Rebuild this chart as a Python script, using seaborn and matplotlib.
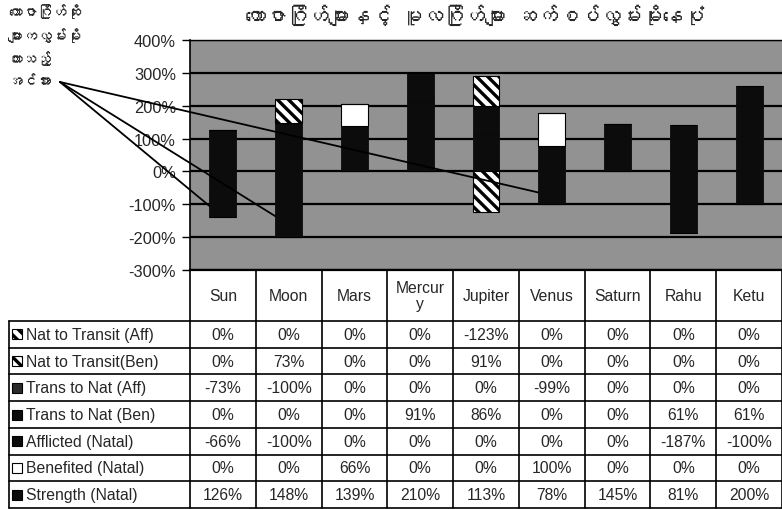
import numpy as np
import matplotlib
matplotlib.use("Agg")
import matplotlib.pyplot as plt
import seaborn as sns
from matplotlib import font_manager
from matplotlib.lines import Line2D
from matplotlib.patches import Rectangle

# ---------------- data ----------------
planets = ["Sun", "Moon", "Mars", "Mercury", "Jupiter", "Venus", "Saturn", "Rahu", "Ketu"]
header_labels = ["Sun", "Moon", "Mars", "Mercur\ny", "Jupiter", "Venus", "Saturn", "Rahu", "Ketu"]

series_names = ["Nat to Transit (Aff)", "Nat to Transit(Ben)", "Trans to Nat (Aff)",
                "Trans to Nat (Ben)", "Afflicted (Natal)", "Benefited (Natal)", "Strength (Natal)"]
nat_to_transit_aff = [0, 0, 0, 0, -123, 0, 0, 0, 0]
nat_to_transit_ben = [0, 73, 0, 0, 91, 0, 0, 0, 0]
trans_to_nat_aff = [-73, -100, 0, 0, 0, -99, 0, 0, 0]
trans_to_nat_ben = [0, 0, 0, 91, 86, 0, 0, 61, 61]
afflicted_natal = [-66, -100, 0, 0, 0, 0, 0, -187, -100]
benefited_natal = [0, 0, 66, 0, 0, 100, 0, 0, 0]
strength_natal = [126, 148, 139, 210, 113, 78, 145, 81, 200]

y_ticks = [-300, -200, -100, 0, 100, 200, 300, 400]

title_text = "ကောဇာဂြိုဟ်များနှင့် မူလဂြိုဟ်များ ဆက်စပ်လွှမ်းမိုးနေပုံ"
note_lines = ["ကောဇာဂြိုဟ်ဆိုး", "များကလွှမ်းမိုး", "ထားသည့်", "အင်အား"]

# ---------------- fonts ----------------
sns.set_style("white")
plt.rcParams["font.family"] = ["Liberation Sans", "DejaVu Sans"]
plt.rcParams["hatch.linewidth"] = 2.4

mm_font = None
try:
    from fontTools.ttLib import TTFont
    for f in font_manager.fontManager.ttflist:
        try:
            tt = TTFont(f.fname, fontNumber=0, lazy=True)
            cm = tt.getBestCmap()
            if cm and 0x1000 in cm and 0x103A in cm:
                mm_font = f.name
                break
        except Exception:
            pass
except Exception:
    pass
mm_family = [mm_font, "DejaVu Sans"] if mm_font else ["DejaVu Sans"]

# ---------------- layout ----------------
W, H = 782, 510
PL, PR, PT, PB = 190, 782, 41, 271
HEAD_B = 322
ROW_H = (509 - HEAD_B) / 7
LBL_L = 9
FS = 11.3
BAR_W = 0.41

fig = plt.figure(figsize=(W / 100, H / 100), dpi=100)
ax = fig.add_axes([PL / W, 1 - PB / H, (PR - PL) / W, (PB - PT) / H])
ax.set_facecolor("#929292")

black = dict(color="#0c0c0c", edgecolor="#0c0c0c", linewidth=0.6)
white = dict(color="white", edgecolor="black", linewidth=0.8)
hatched = dict(color="white", edgecolor="black", linewidth=0.8, hatch="\\\\\\")

pos_layers = [(strength_natal, black), (benefited_natal, white),
              (trans_to_nat_ben, black), (nat_to_transit_ben, hatched)]
neg_layers = [(afflicted_natal, black), (trans_to_nat_aff, black),
              (nat_to_transit_aff, hatched)]

for layers in (pos_layers, neg_layers):
    base = np.zeros(len(planets))
    for vals, st in layers:
        sns.barplot(x=planets, y=vals, bottom=base.copy(), width=BAR_W,
                    errorbar=None, saturation=1, ax=ax, zorder=3, **st)
        base = base + np.array(vals, dtype=float)

ax.set_xlim(-0.5, len(planets) - 0.5)
ax.set_ylim(-300, 400)
ax.set_yticks(y_ticks)
ax.set_yticklabels([f"{t}%" for t in y_ticks], fontsize=FS + 0.5)
ax.set_xticks([])
ax.set_xlabel("")
ax.set_ylabel("")
ax.yaxis.grid(True, color="black", linewidth=1.6)
ax.set_axisbelow(True)
ax.tick_params(axis="y", left=True, direction="out", length=6, width=1, color="black", pad=4)
for side in ["left", "bottom", "top"]:
    ax.spines[side].set_visible(True)
    ax.spines[side].set_color("black")
ax.spines["left"].set_linewidth(1.2)
ax.spines["bottom"].set_linewidth(1.6)
ax.spines["top"].set_linewidth(1.0)
ax.spines["right"].set_visible(False)

# ---------------- annotation ----------------
note_origin = (60 / W, 1 - 83 / H)
note_targets = [(0, -105), (1, -136), (5, -64)]
for idx, yv in note_targets:
    ax.annotate("", xy=(idx - BAR_W / 2, yv), xycoords="data",
                xytext=note_origin, textcoords="figure fraction",
                arrowprops=dict(arrowstyle="-", color="black", lw=1.3,
                                shrinkA=0, shrinkB=0),
                annotation_clip=False, zorder=6)
for i, line in enumerate(note_lines):
    fig.text(8 / W, 1 - (12 + 23.5 * i) / H, line, ha="left", va="center",
             fontsize=10.5, fontweight="bold", family=mm_family)

fig.text(475 / W, 1 - 15 / H, title_text, ha="center", va="center",
         fontsize=15, fontweight="bold", family=mm_family)

# ---------------- data table ----------------
def fx(px):
    return px / W

def fy(py):
    return 1 - py / H

def col_px(xd):
    return ax.transData.transform((xd, 0))[0] * 100 / fig.dpi

lw_t = 1.2
bounds = [col_px(i - 0.5) for i in range(len(planets) + 1)]
for b in bounds:
    fig.add_artist(Line2D([fx(b), fx(b)], [fy(PB), fy(509)], color="black", lw=lw_t))
fig.add_artist(Line2D([fx(LBL_L), fx(LBL_L)], [fy(HEAD_B), fy(509)], color="black", lw=lw_t))
for k in range(8):
    yy = HEAD_B + k * ROW_H
    fig.add_artist(Line2D([fx(LBL_L), fx(W)], [fy(yy), fy(yy)], color="black", lw=lw_t))

for i, lab in enumerate(header_labels):
    cx = (bounds[i] + bounds[i + 1]) / 2
    fig.text(fx(cx), fy((PB + HEAD_B) / 2), lab, ha="center", va="center",
             fontsize=FS, linespacing=1.1)

series_vals = [nat_to_transit_aff, nat_to_transit_ben, trans_to_nat_aff,
               trans_to_nat_ben, afflicted_natal, benefited_natal, strength_natal]
key_styles = [hatched, hatched, dict(color="#2a2a2a", edgecolor="black", linewidth=0.8),
              black, black, white, black]
for r, (name, vals, st) in enumerate(zip(series_names, series_vals, key_styles)):
    cy = HEAD_B + (r + 0.5) * ROW_H
    box = Rectangle((fx(12), fy(cy + 5)), 10 / W, 10 / H, transform=fig.transFigure,
                    facecolor=st["color"], edgecolor="black", linewidth=0.8,
                    hatch=st.get("hatch", None))
    fig.add_artist(box)
    fig.text(fx(26), fy(cy), name, ha="left", va="center", fontsize=FS)
    for i, v in enumerate(vals):
        cx = (bounds[i] + bounds[i + 1]) / 2
        fig.text(fx(cx), fy(cy), f"{v}%", ha="center", va="center", fontsize=FS)

fig.savefig("out.png", dpi=100)
